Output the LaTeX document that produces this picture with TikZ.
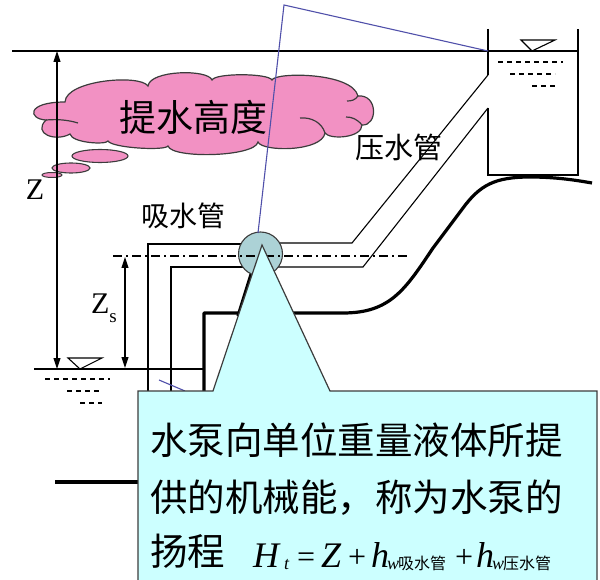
\documentclass[tikz,border=0pt]{standalone}
\usepackage{fontspec}
\setmainfont{Liberation Serif}
\newfontfamily\cjk{Noto Sans CJK SC}
\usetikzlibrary{arrows.meta,shapes.geometric}
\definecolor{cloudpink}{RGB}{242,145,195}
\definecolor{calloutcyan}{RGB}{204,255,255}
\definecolor{pumpteal}{RGB}{172,210,214}
\definecolor{leaderblue}{RGB}{80,80,170}
\definecolor{edgegray}{RGB}{60,60,60}

\begin{document}
\begin{tikzpicture}[x=1pt,y=-1pt,
  pipe/.style={line width=1.1pt, black},
  ground/.style={line width=3.2pt, black, line join=round},
  surfacedash/.style={line width=1.2pt, black, dash pattern=on 5pt off 4pt},
  dimarrow/.style={line width=1.1pt, black,
    {Triangle[length=11pt,width=7pt]}-{Triangle[length=11pt,width=7pt]}},
  lbl/.style={inner sep=0pt, font=\cjk\fontsize{28}{28}\selectfont},
  bigtext/.style={inner sep=0pt, anchor=base west, font=\cjk\fontsize{37.5}{37.5}\selectfont},
  formula/.style={inner sep=0pt, anchor=base west, font=\fontsize{36}{36}\selectfont\itshape},
  opsign/.style={inner sep=0pt, anchor=base west, font=\fontsize{32}{32}\selectfont},
  subit/.style={inner sep=0pt, anchor=base west, font=\fontsize{18}{18}\selectfont\itshape},
  subcjk/.style={inner sep=0pt, anchor=base west, font=\cjk\fontsize{16}{16}\selectfont},
  puffline/.style={draw=edgegray, line width=1.2pt},
  bubble/.style={ellipse, draw=edgegray, fill=cloudpink, line width=1.1pt, inner sep=0pt},
  leader/.style={line width=1.1pt, leaderblue}]

\path[use as bounding box] (0,0) rectangle (600,580);
\clip (0,0) rectangle (600,580);

% thought cloud, traced puff by puff
\path[puffline, fill=cloudpink]
  (46,120) .. controls (28,119) and (26,102) .. (65,102)
  .. controls (66,80) and (140,74) .. (148,86)
  .. controls (150,70) and (208,69) .. (212,80)
  .. controls (215,73) and (268,73) .. (272,80)
  .. controls (275,72) and (352,72) .. (358,96)
  .. controls (378,94) and (378,126) .. (362,125)
  .. controls (362,138) and (330,140) .. (325,133)
  .. controls (322,152) and (262,152) .. (258,142)
  .. controls (255,157) and (172,159) .. (168,146)
  .. controls (165,151) and (112,148) .. (108,141)
  .. controls (106,145) and (72,143) .. (70,134)
  .. controls (56,142) and (32,134) .. (46,120) -- cycle;
% inner creases of the end puffs
\draw[puffline] (46,120) .. controls (58,119) and (68,120) .. (78,123);
\draw[puffline] (325,133) .. controls (322,123) and (312,117) .. (300,118);
\draw[puffline] (358,96) .. controls (355,100) and (352,101) .. (347,101);
\draw[puffline] (362,125) .. controls (357,119) and (352,117) .. (346,117);

\node[bubble, minimum width=56pt, minimum height=13pt] (bub1) at (100,156) {};
\node[bubble, minimum width=38pt, minimum height=10pt] (bub2) at (71,168) {};
\node[bubble, minimum width=20pt, minimum height=5pt, line width=1pt] (bub3) at (52,175) {};
\node[inner sep=0pt, font=\cjk\fontsize{37}{37}\selectfont] (cloudtext) at (193,117) {提水高度};

% coordinates of the hydraulic layout
\coordinate (wl1) at (12,51);
\coordinate (tankTL) at (488,51);
\coordinate (tankTR) at (578,51);
\coordinate (pc) at (260.5,254);

% upper water level and delivery tank
\draw[pipe] (wl1) -- (tankTL) -- (tankTR);
\draw[pipe] (488,29) -- (488,75);
\draw[pipe] (488,108) -- (488,175) -- (578,175) -- (578,29);
\draw[pipe] (521,40) -- (555,40) -- (532,51) -- cycle;
\draw[surfacedash] (498,62) -- (563,62);
\draw[surfacedash] (510,74) -- (555,74);
\draw[surfacedash] (532,86) -- (556,86);

% delivery pipe
\draw[pipe] (488,75) -- (352,243) -- (pc |- 0,243);
\draw[pipe] (488,108) -- (363,267) -- (pc |- 0,267);

% suction pipe
\draw[pipe] (pc |- 0,244) -- (148,244) -- (148,395);
\draw[pipe] (pc |- 0,267) -- (171,267) -- (171,395);

% lower water level
\draw[pipe] (34,369) -- (204,369);
\draw[pipe] (68,358) -- (102,358) -- (80,369) -- cycle;
\draw[surfacedash] (45,379) -- (110,379);
\draw[surfacedash] (67,391) -- (100,391);
\draw[surfacedash] (80,403) -- (102,403);

% ground profile
\draw[ground] (204,398) -- (204,313) -- (343,313)
  .. controls (390,313) and (405,290) .. (433,248) -- (463,208)
  .. controls (480,185) and (495,177) .. (530,177)
  .. controls (555,177) and (575,180) .. (592,183);
\draw[ground] (55,482) -- (140,482);
\draw[ground] (253,268) -- (238,316);

% pump
\node[circle, draw=edgegray, fill=pumpteal, line width=1.1pt,
  minimum size=44pt, inner sep=0pt] (pump) at (pc) {};

% pump axis
\draw[line width=1.6pt, black, dash pattern=on 9pt off 4pt on 2pt off 4pt]
  (113,256) -- (407,256);

% height dimensions
\coordinate (zTop) at (57,51);
\coordinate (zBot) at (57,369);
\draw[dimarrow] (zTop) -- (zBot);
\coordinate (zsTop) at (125,257);
\coordinate (zsBot) at (125,368);
\draw[dimarrow] (zsTop) -- (zsBot);
\node[inner sep=0pt, font=\fontsize{30}{30}\selectfont] (zlabel) at (35,190) {Z};
\node[inner sep=0pt, font=\fontsize{30}{30}\selectfont] (zslabel) at (104,308)
  {Z\raisebox{-9pt}{\fontsize{19}{19}\selectfont s}};

% pipe names
\node[lbl] (suction) at (183,216) {吸水管};
\node[lbl, font=\cjk\fontsize{29}{29}\selectfont] (delivery) at (399,147) {压水管};

% blue leader lines
\coordinate (bendtop) at (284,5);
\draw[leader] (258,233) -- (bendtop) -- (tankTL);
\coordinate (blueA) at (159,380);
\coordinate (blueB) at (185,391);
\draw[leader] (blueA) -- (blueB);

% callout
\draw[fill=calloutcyan, draw=edgegray, line width=1.2pt]
  (138,590) -- (138,391) -- (213,391) -- (262,245) -- (330,391) -- (597,391) -- (597,590);

\node[bigtext] (line1) at (150,454) {水泵向单位重量液体所提};
\node[bigtext] (line2) at (150,511) {供的机械能，称为水泵的};
\node[bigtext] (line3) at (150,565) {扬程};

% head formula
\node[formula] (fH) at (253,567) {H};
\node[subit] (ft) at (284,569) {t};
\node[opsign] (feq) at (297,567) {=};
\node[formula] (fZ) at (321,567) {Z};
\node[opsign] (fplus1) at (348,567) {+};
\node[formula] (fh1) at (371,567) {h};
\node[subit] (fw1) at (387,569) {w};
\node[subcjk] (fs1) at (398,569) {吸水管};
\node[opsign] (fplus2) at (455,567) {+};
\node[formula] (fh2) at (476,567) {h};
\node[subit] (fw2) at (492,569) {w};
\node[subcjk] (fs2) at (503,569) {压水管};

\end{tikzpicture}
\end{document}
